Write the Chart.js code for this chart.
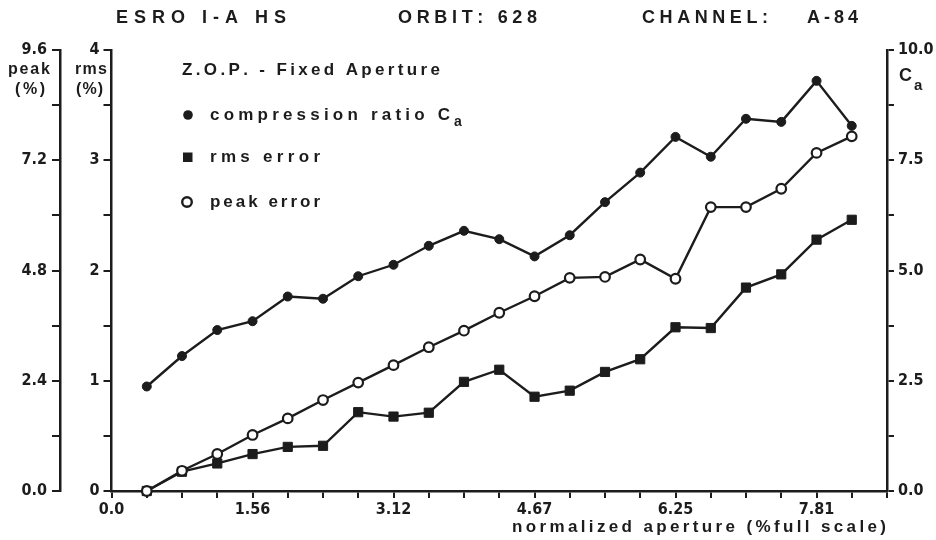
<!DOCTYPE html>
<html>
<head>
<meta charset="utf-8">
<script src="https://cdn.jsdelivr.net/npm/chart.js@4"></script>
<style>
  html, body { margin: 0; padding: 0; background: #ffffff; }
  #wrap { width: 936px; height: 540px; position: relative; }
</style>
</head>
<body>
<div id="wrap"><canvas id="c" width="936" height="540"></canvas></div>
<script>
// ---- data ----
const aperture = [0.391, 0.781, 1.172, 1.563, 1.953, 2.344, 2.734, 3.125, 3.516, 3.906, 4.297,
                  4.688, 5.078, 5.469, 5.859, 6.250, 6.641, 7.031, 7.422, 7.813, 8.203];
const compressionRatio = [2.37, 3.06, 3.65, 3.85, 4.41, 4.36, 4.87, 5.13, 5.56, 5.90, 5.71,
                          5.32, 5.80, 6.55, 7.22, 8.03, 7.58, 8.44, 8.37, 9.30, 8.28];
const rmsError = [0.00, 0.175, 0.25, 0.335, 0.40, 0.41, 0.715, 0.675, 0.71, 0.99, 1.10,
                  0.855, 0.91, 1.08, 1.195, 1.485, 1.478, 1.845, 1.965, 2.28, 2.46];
const peakError = [0.00, 0.44, 0.805, 1.22, 1.58, 1.98, 2.36, 2.74, 3.13, 3.49, 3.88,
                   4.24, 4.64, 4.66, 5.04, 4.62, 6.18, 6.18, 6.58, 7.36, 7.72];

const xTickLabels = ['0.0', '1.56', '3.12', '4.67', '6.25', '7.81'];
const peakTickLabels = ['0.0', '2.4', '4.8', '7.2', '9.6'];
const rmsTickLabels = ['0', '1', '2', '3', '4'];
const caTickLabels = ['0.0', '2.5', '5.0', '7.5', '10.0'];

const titleParts = ['ESRO I-A HS', 'ORBIT: 628', 'CHANNEL:', 'A-84'];
const legendTitle = 'Z.O.P. - Fixed Aperture';
const seriesNames = ['compression ratio C', 'rms error', 'peak error'];
const xAxisTitle = 'normalized aperture (%full scale)';

// ---- styling ----
const ink = '#1c1c1c';
const tickFont = { family: "'Liberation Sans Narrow', 'DejaVu Sans Condensed', 'Liberation Sans', sans-serif", size: 16, weight: 'bold' };
const titleFont = "bold 18px 'Liberation Sans', 'DejaVu Sans', sans-serif";
const textFont = "bold 17px 'Liberation Sans', 'DejaVu Sans', sans-serif";
const unitFont = "bold 16px 'Liberation Sans', 'DejaVu Sans', sans-serif";

function pts(ys) { return aperture.map((x, i) => ({ x: x, y: ys[i] })); }

function spaced(ctx, text, x, y, width, font) {
  ctx.font = font;
  const chars = Array.from(text);
  const w = chars.map(c => ctx.measureText(c).width);
  const natural = w.reduce((a, b) => a + b, 0);
  const gap = chars.length > 1 ? (width - natural) / (chars.length - 1) : 0;
  let cx = x;
  chars.forEach((c, i) => { ctx.fillText(c, cx, y); cx += w[i] + gap; });
}

const decor = {
  id: 'decor',
  afterDraw(chart) {
    const ctx = chart.ctx;
    ctx.save();
    ctx.fillStyle = ink;
    ctx.strokeStyle = ink;
    ctx.textBaseline = 'middle';
    ctx.textAlign = 'left';
    // title
    spaced(ctx, titleParts[0], 116, 18, 170, titleFont);
    spaced(ctx, titleParts[1], 398, 18, 139, titleFont);
    spaced(ctx, titleParts[2], 642, 18, 126, titleFont);
    spaced(ctx, titleParts[3], 807, 18, 51, titleFont);
    // legend
    spaced(ctx, legendTitle, 182, 70, 258, textFont);
    spaced(ctx, seriesNames[0], 210, 115, 240, textFont);
    spaced(ctx, 'a', 454, 122, 9, "bold 14px 'Liberation Sans', sans-serif");
    spaced(ctx, seriesNames[1], 210, 157, 110, textFont);
    spaced(ctx, seriesNames[2], 210, 202, 110, textFont);
    // legend markers
    ctx.beginPath(); ctx.arc(188, 115, 4.8, 0, Math.PI * 2); ctx.fill();
    ctx.fillRect(183, 152.5, 9.5, 9.5);
    ctx.beginPath(); ctx.arc(187, 202, 4.8, 0, Math.PI * 2);
    ctx.fillStyle = '#fff'; ctx.fill(); ctx.lineWidth = 2.4; ctx.stroke();
    ctx.fillStyle = ink;
    // axis unit labels
    spaced(ctx, 'peak', 8, 70, 42, unitFont);
    spaced(ctx, '(%)', 15, 90, 30, unitFont);
    spaced(ctx, 'rms', 75, 70, 32, unitFont);
    spaced(ctx, '(%)', 76, 90, 27, unitFont);
    spaced(ctx, 'C', 899, 76, 12, "bold 18px 'Liberation Sans', sans-serif");
    spaced(ctx, 'a', 914, 86, 8, "bold 15px 'Liberation Sans', sans-serif");
    // x axis title
    spaced(ctx, xAxisTitle, 512, 527, 374, textFont);
    ctx.restore();
  }
};

const common = {
  showLine: true,
  borderColor: ink,
  borderWidth: 2.4,
  tension: 0,
  clip: false,
  pointBorderColor: ink
};

new Chart(document.getElementById('c'), {
  type: 'scatter',
  data: {
    datasets: [
      Object.assign({}, common, {
        label: seriesNames[0], data: pts(compressionRatio), yAxisID: 'yC',
        pointStyle: 'circle', pointRadius: 4.5, pointBackgroundColor: ink, pointBorderWidth: 1, order: 3
      }),
      Object.assign({}, common, {
        label: seriesNames[1], data: pts(rmsError), yAxisID: 'yR',
        pointStyle: 'rect', pointRadius: 6.5, pointBackgroundColor: ink, pointBorderWidth: 1, order: 2
      }),
      Object.assign({}, common, {
        label: seriesNames[2], data: pts(peakError), yAxisID: 'yP',
        pointStyle: 'circle', pointRadius: 4.8, pointBackgroundColor: '#ffffff', pointBorderWidth: 2.2, order: 1
      })
    ]
  },
  options: {
    responsive: false,
    animation: false,
    devicePixelRatio: 1,
    layout: { padding: { top: 50, left: 0, right: 0, bottom: 0 } },
    plugins: { legend: { display: false }, tooltip: { enabled: false }, title: { display: false } },
    scales: {
      x: {
        type: 'linear', min: 0, max: 8.59375,
        border: { color: ink, width: 2.5 },
        grid: { drawOnChartArea: false, drawTicks: true, tickLength: 7, color: ink, lineWidth: 2 },
        ticks: {
          stepSize: 0.390625, autoSkip: false, maxRotation: 0, color: ink, font: tickFont, padding: 2,
          callback: (v, i) => (i % 4 === 0 && xTickLabels[i / 4] !== undefined) ? xTickLabels[i / 4] : ''
        },
        afterFit: s => { s.height = 49; }
      },
      yR: {
        type: 'linear', position: 'left', weight: 0, min: 0, max: 4,
        border: { color: ink, width: 2.5 },
        grid: { drawOnChartArea: false, drawTicks: true, tickLength: 8, color: ink, lineWidth: 2 },
        ticks: {
          stepSize: 0.5, color: ink, font: tickFont, padding: 4,
          callback: (v, i) => i % 2 === 0 ? rmsTickLabels[i / 2] : ''
        },
        afterFit: s => { s.width = 51.5; }
      },
      yP: {
        type: 'linear', position: 'left', weight: 1, min: 0, max: 9.6,
        border: { color: ink, width: 2.5 },
        grid: { drawOnChartArea: false, drawTicks: true, tickLength: 8, color: ink, lineWidth: 2 },
        ticks: {
          stepSize: 1.2, color: ink, font: tickFont, padding: 5,
          callback: (v, i) => i % 2 === 0 ? peakTickLabels[i / 2] : ''
        },
        afterFit: s => { s.width = 60; }
      },
      yC: {
        type: 'linear', position: 'right', min: 0, max: 10,
        border: { color: ink, width: 2.5 },
        grid: { drawOnChartArea: false, drawTicks: true, tickLength: 7, color: ink, lineWidth: 2 },
        ticks: {
          stepSize: 1.25, color: ink, font: tickFont, padding: 4,
          callback: (v, i) => i % 2 === 0 ? caTickLabels[i / 2] : ''
        },
        afterFit: s => { s.width = 49; }
      }
    }
  },
  plugins: [decor]
});
</script>
</body>
</html>
